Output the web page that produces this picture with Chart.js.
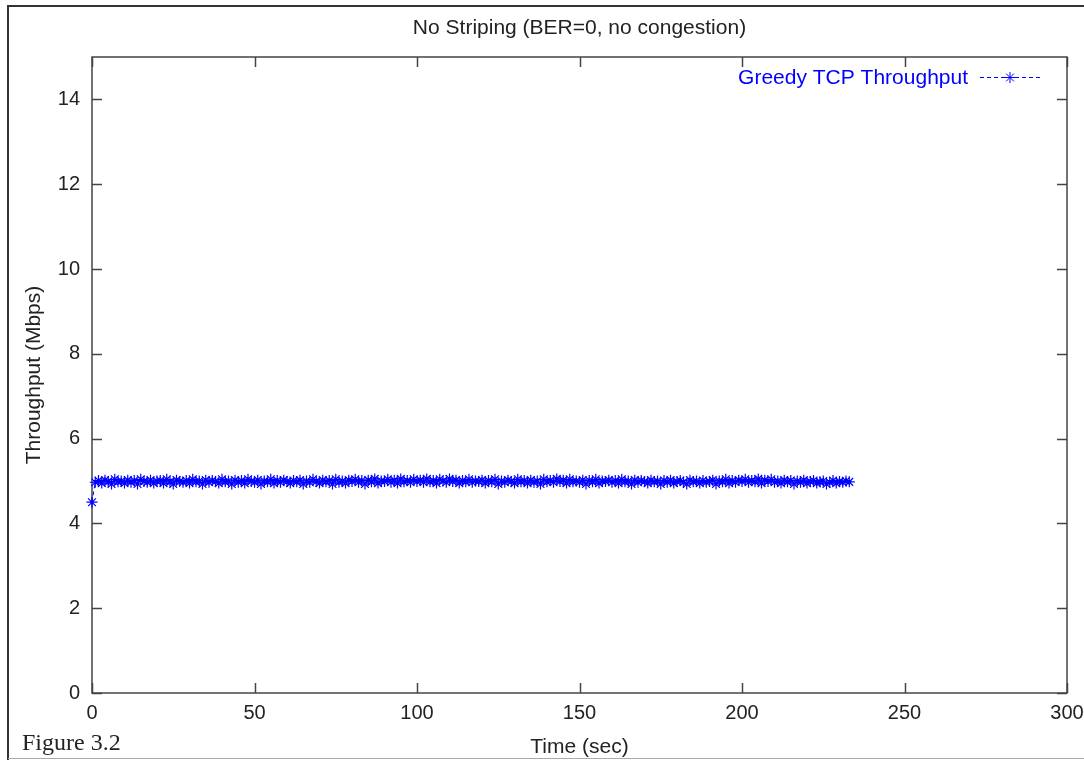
<!DOCTYPE html>
<html>
<head>
<meta charset="utf-8">
<script src="https://cdn.jsdelivr.net/npm/chart.js@4/dist/chart.umd.min.js"></script>
<style>
  html, body { margin:0; padding:0; background:#fff; }
  canvas { display:block; }
</style>
</head>
<body>
<canvas id="c" width="1084" height="760"></canvas>
<script>
/* No Striping (BER=0) — greedy TCP throughput over time, gnuplot look. */
const TITLE = "No Striping (BER=0, no congestion)";
const X_TITLE = "Time (sec)";
const Y_TITLE = "Throughput (Mbps)";
const SERIES_LABEL = "Greedy TCP Throughput";
const CAPTION = "Figure 3.2";

const X_TICKS = [0, 50, 100, 150, 200, 250, 300];
const Y_TICKS = [0, 2, 4, 6, 8, 10, 12, 14];

// sample times (sec)
const TIMES = [
  0,1,2,3,4,5,6,7,8,9,10,11,12,13,14,15,16,17,18,19,20,
  21,22,23,24,25,26,27,28,29,30,31,32,33,34,35,36,37,38,39,40,
  41,42,43,44,45,46,47,48,49,50,51,52,53,54,55,56,57,58,59,60,
  61,62,63,64,65,66,67,68,69,70,71,72,73,74,75,76,77,78,79,80,
  81,82,83,84,85,86,87,88,89,90,91,92,93,94,95,96,97,98,99,100,
  101,102,103,104,105,106,107,108,109,110,111,112,113,114,115,116,117,118,119,120,
  121,122,123,124,125,126,127,128,129,130,131,132,133,134,135,136,137,138,139,140,
  141,142,143,144,145,146,147,148,149,150,151,152,153,154,155,156,157,158,159,160,
  161,162,163,164,165,166,167,168,169,170,171,172,173,174,175,176,177,178,179,180,
  181,182,183,184,185,186,187,188,189,190,191,192,193,194,195,196,197,198,199,200,
  201,202,203,204,205,206,207,208,209,210,211,212,213,214,215,216,217,218,219,220,
  221,222,223,224,225,226,227,228,229,230,231,232,233
];

// throughput (Mbps)
const THROUGHPUT = [
  4.50,
  4.97,5.01,4.95,5.02,4.99,4.93,5.04,4.98,5.00,4.95,5.02,4.97,5.01,4.93,5.04,4.99,4.97,5.02,4.95,5.00,
  5.01,4.95,5.04,4.98,4.93,5.02,4.99,4.97,5.01,4.95,5.04,4.98,5.00,4.93,5.02,4.97,5.01,4.99,4.95,5.04,
  4.98,5.00,4.93,5.02,4.97,5.01,4.95,5.04,4.99,4.97,5.02,4.93,5.00,4.98,5.04,4.95,5.01,4.97,5.02,4.99,
  4.95,5.01,4.98,5.02,4.93,5.00,4.97,5.04,4.99,4.95,5.02,4.98,5.01,4.93,5.04,4.97,5.00,4.95,5.02,4.99,
  5.04,4.97,5.01,4.93,5.02,4.98,5.05,4.95,5.00,4.99,5.04,4.97,5.02,4.95,5.05,4.98,5.01,4.97,5.04,4.99,
  5.02,4.97,5.05,4.98,5.01,4.95,5.04,5.00,4.97,5.05,4.99,5.02,4.95,5.01,4.98,5.04,4.97,5.00,4.99,5.02,
  4.95,5.01,4.98,5.04,4.93,5.00,4.97,5.02,4.99,4.95,5.04,4.98,5.01,4.95,5.02,4.97,5.00,4.93,5.04,4.98,
  5.01,4.97,5.05,4.99,5.02,4.95,5.04,4.98,5.00,4.97,5.02,4.93,5.01,4.98,5.04,4.95,5.00,4.99,5.02,4.97,
  5.01,4.95,5.04,4.98,5.00,4.93,5.02,4.97,5.01,4.99,4.95,5.02,4.98,5.00,4.93,5.01,4.97,5.02,4.95,4.99,
  5.01,4.97,4.93,5.02,4.98,5.00,4.95,5.01,4.97,4.99,5.02,4.93,5.00,4.98,5.04,4.95,5.01,4.97,5.02,4.99,
  5.04,4.97,5.01,4.98,5.05,4.95,5.02,4.99,5.04,4.97,5.00,4.95,5.02,4.98,5.01,4.93,5.00,4.97,5.02,4.95,
  4.99,5.01,4.95,4.98,5.00,4.93,4.97,5.01,4.95,4.99,4.97,5.00,4.98
];

const BLUE = "#0000ff", INK = "#222", FRAME = "#444";
const SANS = "'Liberation Sans', Arial, sans-serif";
const TICK_LEN = 10;

const decor = {
  id: "decor",
  beforeDatasetsDraw(chart){
    const { ctx, chartArea: a, scales: { x, y } } = chart;
    ctx.save();
    // outer page frame
    ctx.strokeStyle = "#333"; ctx.lineWidth = 2;
    ctx.beginPath();
    ctx.moveTo(8, 760); ctx.lineTo(8, 6); ctx.lineTo(1084, 6);
    ctx.stroke();
    ctx.strokeStyle = "#aaa"; ctx.lineWidth = 1;
    ctx.beginPath(); ctx.moveTo(8, 758.5); ctx.lineTo(1084, 758.5); ctx.stroke();
    // plot border
    ctx.strokeStyle = FRAME; ctx.lineWidth = 1.5;
    ctx.strokeRect(a.left, a.top, a.right - a.left, a.bottom - a.top);
    // inward ticks, mirrored
    ctx.beginPath();
    X_TICKS.forEach(v => {
      const px = Math.round(x.getPixelForValue(v)) + 0.5;
      ctx.moveTo(px, a.bottom); ctx.lineTo(px, a.bottom - TICK_LEN);
      ctx.moveTo(px, a.top); ctx.lineTo(px, a.top + TICK_LEN);
    });
    Y_TICKS.forEach(v => {
      const py = Math.round(y.getPixelForValue(v)) + 0.5;
      ctx.moveTo(a.left, py); ctx.lineTo(a.left + TICK_LEN, py);
      ctx.moveTo(a.right, py); ctx.lineTo(a.right - TICK_LEN, py);
    });
    ctx.stroke();
    ctx.restore();
  },
  afterDraw(chart){
    const { ctx, chartArea: a } = chart;
    const cx = (a.left + a.right) / 2, cy = (a.top + a.bottom) / 2;
    ctx.save();
    ctx.fillStyle = INK;
    ctx.font = "21px " + SANS;
    ctx.textAlign = "center"; ctx.textBaseline = "alphabetic";
    ctx.fillText(TITLE, cx, 34);
    ctx.fillText(X_TITLE, cx, 753);
    ctx.save();
    ctx.translate(40, cy); ctx.rotate(-Math.PI / 2);
    ctx.fillText(Y_TITLE, 0, 0);
    ctx.restore();
    // caption
    ctx.textAlign = "left";
    ctx.font = "24px 'Liberation Serif', 'Times New Roman', serif";
    ctx.fillText(CAPTION, 22, 750);
    // key
    ctx.fillStyle = BLUE; ctx.strokeStyle = BLUE;
    ctx.font = "21px " + SANS; ctx.textAlign = "right";
    ctx.fillText(SERIES_LABEL, 968, 84);
    ctx.lineWidth = 1; ctx.setLineDash([4, 3]);
    ctx.beginPath(); ctx.moveTo(980, 77.5); ctx.lineTo(1040, 77.5); ctx.stroke();
    ctx.setLineDash([]);
    const r = 5.5, sx = 1010, sy = 77.5;
    ctx.beginPath();
    ctx.moveTo(sx - r, sy); ctx.lineTo(sx + r, sy);
    ctx.moveTo(sx, sy - r); ctx.lineTo(sx, sy + r);
    const d = r * 0.707;
    ctx.moveTo(sx - d, sy - d); ctx.lineTo(sx + d, sy + d);
    ctx.moveTo(sx - d, sy + d); ctx.lineTo(sx + d, sy - d);
    ctx.stroke();
    ctx.restore();
  }
};

new Chart(document.getElementById("c"), {
  type: "scatter",
  data: {
    datasets: [{
      label: SERIES_LABEL,
      data: TIMES.map((t, i) => ({ x: t, y: THROUGHPUT[i] })),
      showLine: true,
      borderColor: BLUE, borderWidth: 1, borderDash: [4, 3],
      pointStyle: "star", pointRadius: 5.5, pointBorderColor: BLUE,
      pointBorderWidth: 1.2, pointBackgroundColor: BLUE,
      clip: false
    }]
  },
  options: {
    responsive: false, animation: false,
    layout: { padding: { left: 0, top: 57, right: 17, bottom: 0 } },
    plugins: { legend: { display: false }, tooltip: { enabled: false } },
    scales: {
      x: {
        type: "linear", min: 0, max: 300,
        afterBuildTicks: s => { s.ticks = X_TICKS.map(v => ({ value: v })); },
        afterFit: s => { s.height = 67; s.paddingLeft = 0; s.paddingRight = 0; },
        grid: { display: false, drawTicks: false }, border: { display: false },
        ticks: { color: INK, font: { size: 20, family: SANS }, padding: 8, maxRotation: 0 }
      },
      y: {
        type: "linear", min: 0, max: 15,
        afterBuildTicks: s => { s.ticks = Y_TICKS.map(v => ({ value: v })); },
        afterFit: s => { s.width = 92; },
        grid: { display: false, drawTicks: false }, border: { display: false },
        ticks: { color: INK, font: { size: 20, family: SANS }, padding: 12 }
      }
    }
  },
  plugins: [decor]
});
</script>
</body>
</html>
